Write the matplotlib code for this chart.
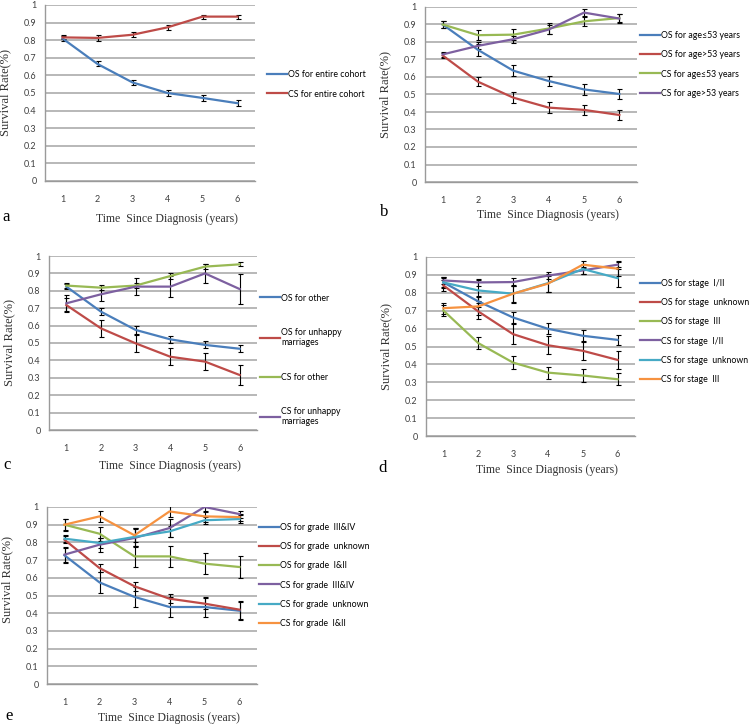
import matplotlib
matplotlib.use("Agg")
import matplotlib.pyplot as plt
from matplotlib.lines import Line2D

years = [1, 2, 3, 4, 5, 6]

# panel a
a_labels = ["OS for entire cohort", "CS for entire cohort"]
a_vals = [[0.81, 0.665, 0.56, 0.50, 0.472, 0.442],
          [0.816, 0.813, 0.831, 0.873, 0.934, 0.934]]
a_errs = [[0.012, 0.014, 0.015, 0.017, 0.016, 0.016],
          [0.012, 0.015, 0.015, 0.015, 0.012, 0.012]]

# panel b
b_labels = ["OS for age\u226453 years", "OS for age>53 years",
            "CS for age\u226453 years", "CS for age>53 years"]
b_vals = [[0.90, 0.755, 0.636, 0.577, 0.529, 0.503],
          [0.723, 0.573, 0.482, 0.425, 0.412, 0.383],
          [0.90, 0.839, 0.842, 0.877, 0.918, 0.937],
          [0.729, 0.778, 0.816, 0.871, 0.968, 0.934]]
b_errs = [[0.02, 0.035, 0.03, 0.03, 0.03, 0.03],
          [0.015, 0.025, 0.03, 0.03, 0.03, 0.03],
          [0.02, 0.03, 0.03, 0.03, 0.025, 0.025],
          [0.015, 0.02, 0.02, 0.025, 0.02, 0.025]]

# panel c
c_labels = ["OS for other", "OS for unhappy\nmarriages",
            "CS for other", "CS for unhappy\nmarriages"]
c_vals = [[0.824, 0.68, 0.575, 0.521, 0.489, 0.467],
          [0.718, 0.584, 0.498, 0.421, 0.393, 0.316],
          [0.83, 0.818, 0.83, 0.885, 0.939, 0.952],
          [0.728, 0.78, 0.824, 0.824, 0.90, 0.81]]
c_errs = [[0.015, 0.02, 0.022, 0.02, 0.02, 0.02],
          [0.04, 0.05, 0.05, 0.05, 0.05, 0.055],
          [0.015, 0.015, 0.015, 0.015, 0.015, 0.012],
          [0.045, 0.04, 0.05, 0.06, 0.055, 0.085]]

# panel d
d_labels = ["OS for stage  I/II", "OS for stage  unknown", "OS for stage  III",
            "CS for stage  I/II", "CS for stage  unknown", "CS for stage  III"]
d_vals = [[0.858, 0.752, 0.662, 0.599, 0.56, 0.537],
          [0.841, 0.696, 0.569, 0.507, 0.476, 0.425],
          [0.701, 0.519, 0.41, 0.354, 0.338, 0.317],
          [0.869, 0.858, 0.86, 0.896, 0.925, 0.957],
          [0.858, 0.813, 0.795, 0.854, 0.933, 0.882],
          [0.714, 0.724, 0.795, 0.851, 0.957, 0.935]]
d_errs = [[0.025, 0.03, 0.03, 0.03, 0.03, 0.03],
          [0.03, 0.045, 0.055, 0.05, 0.05, 0.05],
          [0.03, 0.035, 0.035, 0.033, 0.035, 0.033],
          [0.02, 0.02, 0.02, 0.02, 0.02, 0.015],
          [0.03, 0.06, 0.05, 0.05, 0.03, 0.05],
          [0.03, 0.05, 0.045, 0.045, 0.02, 0.04]]

# panel e
e_labels = ["OS for grade  III&IV", "OS for grade  unknown", "OS for grade  I&II",
            "CS for grade  III&IV", "CS for grade  unknown", "CS for grade  I&II"]
e_vals = [[0.727, 0.574, 0.492, 0.435, 0.435, 0.414],
          [0.815, 0.655, 0.552, 0.482, 0.454, 0.42],
          [0.90, 0.849, 0.721, 0.721, 0.68, 0.661],
          [0.731, 0.787, 0.825, 0.881, 1.0, 0.96],
          [0.821, 0.797, 0.831, 0.862, 0.925, 0.932],
          [0.90, 0.947, 0.84, 0.975, 0.947, 0.943]]
e_errs = [[0.045, 0.06, 0.055, 0.055, 0.055, 0.05],
          [0.02, 0.025, 0.025, 0.025, 0.03, 0.05],
          [0.035, 0.04, 0.06, 0.06, 0.06, 0.06],
          [0.04, 0.04, 0.05, 0.05, 0.03, 0.02],
          [0.02, 0.03, 0.05, 0.03, 0.02, 0.02],
          [0.03, 0.03, 0.04, 0.03, 0.03, 0.02]]

colors = ["#4A7EBB", "#BE4B48", "#98B954", "#7D60A0", "#46AAC5", "#F69240"]

W, H = 750, 725
fig = plt.figure(figsize=(W / 100, H / 100), dpi=100)
sans = ["Lato", "DejaVu Sans"]
serif = "Liberation Serif"


def panel(box, labels, vals, errs, leg_x, leg_y, letter, letter_xy,
          spacing=1.15, ylab_y=0.5, xlab_off=29):
    l, r, t, b = box
    ax = fig.add_axes([l / W, 1 - b / H, (r - l) / W, (b - t) / H])
    handles = []
    for i, (v, e) in enumerate(zip(vals, errs)):
        ax.errorbar(years, v, yerr=e, color=colors[i], lw=1.6,
                    ecolor="black", elinewidth=0.8, capsize=1.8, capthick=0.8)
        handles.append(Line2D([], [], color=colors[i], lw=1.6))
    ax.set_xlim(0.5, 6.5)
    ax.set_ylim(0, 1)
    ax.set_yticks([i / 10 for i in range(11)])
    ax.set_yticklabels(["0"] + ["0.%d" % i for i in range(1, 10)] + ["1"])
    ax.set_xticks(years)
    ax.grid(axis="y", color="#ababab", lw=1.2)
    ax.set_axisbelow(True)
    for s in ["top", "right"]:
        ax.spines[s].set_visible(False)
    for s in ["left", "bottom"]:
        ax.spines[s].set_color("#9a9a9a")
        ax.spines[s].set_linewidth(1.0)
    ax.tick_params(length=0, labelsize=6.5, colors="#404040")
    ax.tick_params(axis="x", pad=10)
    ax.tick_params(axis="y", pad=6)
    for lab in ax.get_xticklabels() + ax.get_yticklabels():
        lab.set_family(sans)
    ax.set_ylabel("Survival Rate(%)", family=serif, fontsize=9, color="#333333")
    ax.yaxis.set_label_coords(-34 / (r - l), ylab_y)
    ax.set_xlabel("Time  Since Diagnosis (years)", family=serif, fontsize=8.5,
                  color="#333333")
    ax.xaxis.set_label_coords(0.58, -xlab_off / (b - t))
    ax.legend(handles, labels, loc="center left",
              bbox_to_anchor=(leg_x / W, 1 - leg_y / H),
              bbox_transform=fig.transFigure, frameon=False, borderpad=0,
              borderaxespad=0, handlelength=2.3, handletextpad=0.1,
              labelspacing=spacing, prop={"family": sans, "size": 6.3})
    fig.text(letter_xy[0] / W, 1 - letter_xy[1] / H, letter, family=serif,
             fontsize=12, ha="left", va="center")
    return ax


panel((45, 255, 5, 181), a_labels, a_vals, a_errs, 267, 84.5, "a", (2, 217),
      xlab_off=32)
panel((425, 637, 7, 182), b_labels, b_vals, b_errs, 640, 64.5, "b", (380, 212),
      xlab_off=27)
panel((49, 257, 256, 430), c_labels, c_vals, c_errs, 260, 360, "c", (3, 465),
      spacing=2.9, xlab_off=30)
panel((426, 635, 257, 436), d_labels, d_vals, d_errs, 640, 331.5, "d", (378, 468),
      xlab_off=28)
panel((47, 257, 507, 684), e_labels, e_vals, e_errs, 259, 575.5, "e", (5, 716),
      ylab_y=0.59, xlab_off=28)

fig.savefig("out.png", dpi=100, facecolor="white")
